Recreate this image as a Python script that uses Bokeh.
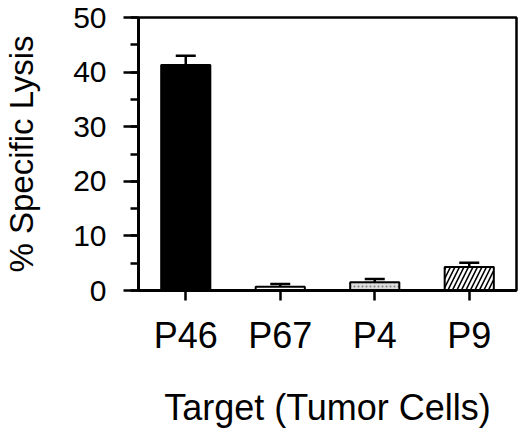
from bokeh.plotting import figure
from bokeh.models import ColumnDataSource, FactorRange, Range1d, Whisker, TeeHead, SingleIntervalTicker
from bokeh.embed import file_html
from bokeh.resources import INLINE

# Data
categories = ["P46", "P67", "P4", "P9"]
lysis = [41.3, 0.7, 1.5, 4.3]
errors = [1.7, 0.5, 0.6, 0.8]
y_ticks = [0, 10, 20, 30, 40, 50]

# Styles
fills = ["black", "white", "#dcdcdc", "white"]
hatches = [" ", " ", ".", "/"]
hatch_colors = ["black", "black", "#808080", "black"]
hatch_scales = [8, 8, 4, 9]

src = ColumnDataSource(dict(
    cat=categories, lysis=lysis,
    upper=[v + e for v, e in zip(lysis, errors)],
    fill=fills, hatch=hatches, hcol=hatch_colors, hscale=hatch_scales,
))

p = figure(width=520, height=430, x_range=FactorRange(*categories),
           y_range=Range1d(y_ticks[0], y_ticks[-1]),
           output_backend="svg", toolbar_location=None,
           min_border_left=135, min_border_right=4, min_border_top=17,
           min_border_bottom=128)

p.vbar(x="cat", top="lysis", width=0.52, source=src, fill_color="fill",
       line_color="black", line_width=2, hatch_pattern="hatch",
       hatch_color="hcol", hatch_scale="hscale", hatch_weight=1.6)

w = Whisker(source=src, base="cat", upper="upper", lower="lysis",
            dimension="height", line_width=2.5, line_color="black",
            upper_head=TeeHead(size=20, line_width=2.5, line_color="black"),
            lower_head=None)
p.add_layout(w)

p.xgrid.visible = False
p.ygrid.visible = False
p.outline_line_color = "black"
p.outline_line_width = 2.5

p.yaxis.ticker = SingleIntervalTicker(interval=10, num_minor_ticks=2)
p.yaxis.axis_label = "% Specific Lysis"
p.xaxis.axis_label = "Target (Tumor Cells)"

for ax in (p.xaxis[0], p.yaxis[0]):
    ax.axis_line_width = 3
    ax.axis_line_color = "black"
    ax.major_tick_line_width = 2.5
    ax.major_tick_line_color = "black"
    ax.minor_tick_line_width = 2.5
    ax.minor_tick_line_color = "black"
    ax.major_tick_in = 0
    ax.minor_tick_in = 0
    ax.major_label_text_font = "Liberation Sans"
    ax.major_label_text_color = "black"
    ax.axis_label_text_font = "Liberation Sans"
    ax.axis_label_text_font_style = "normal"
    ax.axis_label_text_color = "black"

p.yaxis.major_tick_out = 15
p.yaxis.minor_tick_out = 8
p.yaxis.major_label_text_font_size = "30px"
p.yaxis.major_label_standoff = 17
p.yaxis.axis_label_text_font_size = "33px"
p.yaxis.axis_label_standoff = 30

p.xaxis.major_tick_out = 10
p.xaxis.major_label_text_font_size = "36px"
p.xaxis.major_label_standoff = 14
p.xaxis.axis_label_text_font_size = "36px"
p.xaxis.axis_label_standoff = 28

open("out.html", "w").write(file_html(p, INLINE))
